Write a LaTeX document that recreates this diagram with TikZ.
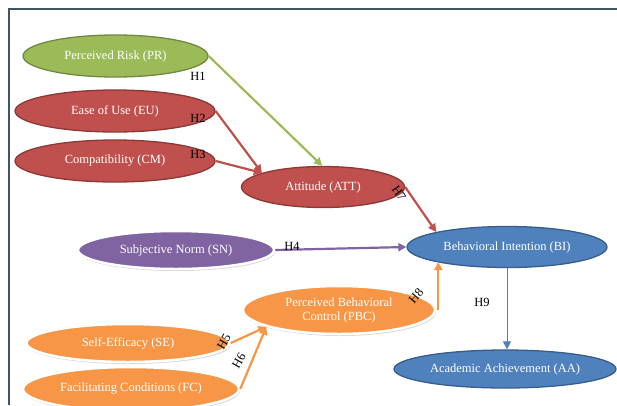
\documentclass[tikz,border=0pt]{standalone}
\usepackage{fontspec}
\setmainfont{Liberation Serif}
\usetikzlibrary{shapes.geometric, arrows.meta, shadows}

\definecolor{prgreen}{HTML}{9BBB59}
\definecolor{prgreendk}{HTML}{71893F}
\definecolor{attred}{HTML}{C0504D}
\definecolor{attreddk}{HTML}{8C3836}
\definecolor{snpurple}{HTML}{8064A2}
\definecolor{biblue}{HTML}{4F81BD}
\definecolor{bibluedk}{HTML}{385D8A}
\definecolor{pbcorange}{HTML}{F79646}
\definecolor{framegray}{HTML}{3E5566}

\begin{document}
\begin{tikzpicture}[x=1pt, y=-1pt,
  construct/.style={ellipse, inner sep=0pt, align=center, text=white,
    font=\fontsize{12.5}{14}\selectfont},
  darkrim/.style={construct, line width=1.3pt},
  whiterim/.style={construct, draw=white, line width=2.5pt,
    drop shadow={shadow xshift=1pt, shadow yshift=-2pt, opacity=0.3}},
  hpath/.style={line width=2.2pt, -{Triangle[length=8pt, width=8pt]}},
  hyp/.style={font=\fontsize{12.5}{14}\selectfont, inner sep=0pt}]
\useasboundingbox (0,0) rectangle (617,405);
\clip (0,0) rectangle (617,405);
\fill[white] (0,0) rectangle (617,405);

% frame
\draw[framegray, line width=1.2pt] (9,405) -- (9,9) -- (617,9);

% constructs
\node[darkrim, fill=prgreen, draw=prgreendk, minimum width=185pt, minimum height=42pt] (pr) at (115.5,56) {Perceived Risk (PR)};
\node[darkrim, fill=attred, draw=attreddk, minimum width=200pt, minimum height=42pt] (eu) at (115,111) {Ease of Use (EU)};
\node[darkrim, fill=attred, draw=attreddk, minimum width=200pt, minimum height=42pt] (cm) at (115,161) {Compatibility (CM)};
\node[darkrim, fill=attred, draw=attreddk, minimum width=163pt, minimum height=41pt] (att) at (323,187) {Attitude (ATT)};
\node[whiterim, fill=snpurple, minimum width=196pt, minimum height=38pt] (sn) at (176,250) {Subjective Norm (SN)};
\node[darkrim, fill=biblue, draw=bibluedk, minimum width=200pt, minimum height=41pt] (bi) at (507,247) {Behavioral Intention (BI)};
\node[whiterim, fill=pbcorange, minimum width=192pt, minimum height=48pt] (pbc) at (339,310) {Perceived Behavioral\\Control (PBC)};
\node[whiterim, fill=pbcorange, minimum width=203pt, minimum height=38pt] (se) at (128,343) {Self-Efficacy (SE)};
\node[whiterim, fill=pbcorange, minimum width=216pt, minimum height=44pt] (fc) at (131,389) {Facilitating Conditions (FC)};
\node[darkrim, fill=biblue, draw=bibluedk, minimum width=222pt, minimum height=38pt] (aa) at (505,369) {Academic Achievement (AA)};

% hypotheses
\draw[hpath, prgreen] (pr.east) -- (att.92);
\draw[hpath, attred] (eu.east) -- (att.167);
\draw[hpath, attred] (cm.east) -- (att.167);
\draw[hpath, attred] (att.east) -- (bi.168);
\draw[hpath, snpurple] (sn.east) -- (bi.west);
\coordinate (h8s) at ([xshift=2pt]pbc.east);
\draw[hpath, pbcorange] (h8s) -- (h8s |- bi.192);
\draw[hpath, pbcorange] (se.east) -- (pbc.193);
\draw[hpath, pbcorange] (fc.east) -- (pbc.193);
\draw[line width=1pt, biblue, -{Triangle[length=8pt, width=8pt]}] (bi.south) -- (bi.south |- aa.north);

\node[hyp] (h1) at (198,76) {H1};
\node[hyp] (h2) at (198,118) {H2};
\node[hyp] (h3) at (198,154) {H3};
\node[hyp] (h4) at (292,246) {H4};
\node[hyp, rotate=60] (h5) at (224,342) {H5};
\node[hyp, rotate=60] (h6) at (239,361) {H6};
\node[hyp, rotate=-55] (h7) at (399,193) {H7};
\node[hyp, rotate=50] (h8) at (416,296) {H8};
\node[hyp] (h9) at (482,302) {H9};
\end{tikzpicture}
\end{document}
